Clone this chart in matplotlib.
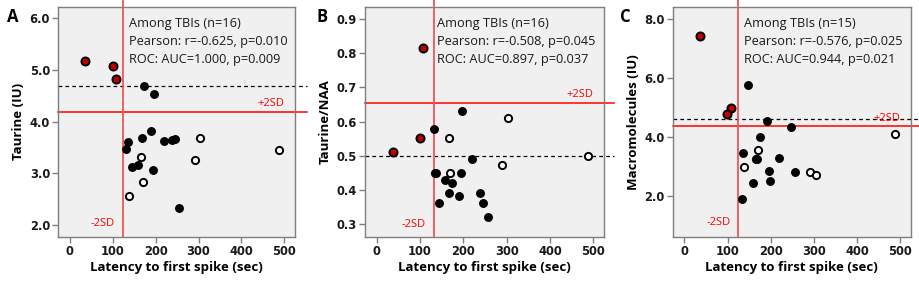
import matplotlib
matplotlib.use("Agg")
import matplotlib.pyplot as plt

# latency to first spike (sec) and metabolite values
# panel A: Taurine (IU)
a_red_x = [35, 100, 107]
a_red_y = [5.18, 5.08, 4.82]
a_tbi_x = [173, 196, 190, 169, 136, 132, 220, 238, 246, 146, 158, 194, 255]
a_tbi_y = [4.69, 4.53, 3.82, 3.69, 3.60, 3.47, 3.62, 3.65, 3.66, 3.12, 3.15, 3.06, 2.33]
a_ctl_x = [303, 487, 291, 166, 171, 138]
a_ctl_y = [3.69, 3.44, 3.25, 3.31, 2.83, 2.56]

# panel B: Taurine/NAA
b_red_x = [107, 99, 37]
b_red_y = [0.815, 0.551, 0.511]
b_tbi_x = [197, 132, 220, 138, 194, 158, 174, 168, 191, 238, 245, 145, 256]
b_tbi_y = [0.630, 0.580, 0.490, 0.451, 0.451, 0.431, 0.421, 0.392, 0.382, 0.392, 0.363, 0.363, 0.323]
b_ctl_x = [303, 166, 487, 290, 170, 134]
b_ctl_y = [0.610, 0.551, 0.500, 0.472, 0.451, 0.451]

# panel C: Macromolecules (IU)
c_red_x = [37, 109, 99]
c_red_y = [7.42, 4.97, 4.76]
c_tbi_x = [147, 192, 246, 175, 137, 169, 220, 196, 256, 199, 159, 134]
c_tbi_y = [5.75, 4.53, 4.33, 3.99, 3.45, 3.24, 3.30, 2.85, 2.81, 2.50, 2.43, 1.88]
c_ctl_x = [171, 138, 291, 304, 487, 166]
c_ctl_y = [3.54, 2.97, 2.80, 2.70, 4.09, 3.24]

panels = [
    dict(letter="A", ylabel="Taurine (IU)", red=(a_red_x, a_red_y), tbi=(a_tbi_x, a_tbi_y),
         ctl=(a_ctl_x, a_ctl_y), ylim=(1.77, 6.22), yticks=[2.0, 3.0, 4.0, 5.0, 6.0],
         dash=4.69, sd2=4.18, vline=123, sdlab_y=4.24, minus_y=2.03,
         txt=["Among TBIs (n=16)", "Pearson: r=-0.625, p=0.010", "ROC: AUC=1.000, p=0.009"],
         rect=[58.3, 236.7, 236.7], ext=1.05, letter_x=12.8),
    dict(letter="B", ylabel="Taurine/NAA", red=(b_red_x, b_red_y), tbi=(b_tbi_x, b_tbi_y),
         ctl=(b_ctl_x, b_ctl_y), ylim=(0.264, 0.935), yticks=[0.3, 0.4, 0.5, 0.6, 0.7, 0.8, 0.9],
         dash=0.50, sd2=0.654, vline=132, sdlab_y=0.663, minus_y=0.300,
         txt=["Among TBIs (n=16)", "Pearson: r=-0.508, p=0.045", "ROC: AUC=0.897, p=0.037"],
         rect=[365, 236.7, 239], ext=1.042, letter_x=321.7),
    dict(letter="C", ylabel="Macromolecules (IU)", red=(c_red_x, c_red_y), tbi=(c_tbi_x, c_tbi_y),
         ctl=(c_ctl_x, c_ctl_y), ylim=(0.62, 8.4), yticks=[2.0, 4.0, 6.0, 8.0],
         dash=4.60, sd2=4.36, vline=125, sdlab_y=4.43, minus_y=1.1,
         txt=["Among TBIs (n=15)", "Pearson: r=-0.576, p=0.025", "ROC: AUC=0.944, p=0.021"],
         rect=[672.7, 236.7, 238.3], ext=1.04, letter_x=625.7),
]

W, H = 920, 290
fig = plt.figure(figsize=(W / 100, H / 100), dpi=100)
fig.patch.set_facecolor("white")

for p in panels:
    left, bottom, width = p["rect"]
    top = 7.0
    ax = fig.add_axes([left / W, (H - bottom) / H, width / W, (bottom - top) / H])
    ax.set_facecolor("#f0f0f0")
    for s in ax.spines.values():
        s.set_color("#7f7f7f")
        s.set_linewidth(1.0)

    ax.set_xlim(-27, 525)
    ax.set_ylim(*p["ylim"])
    ax.set_xticks([0, 100, 200, 300, 400, 500])
    ax.set_yticks(p["yticks"])
    ax.set_yticklabels(["%.1f" % v for v in p["yticks"]])
    ax.tick_params(direction="out", length=4, width=1, color="#7f7f7f",
                   labelsize=8.3, labelcolor="#1a1a1a", pad=2)
    for lab in ax.get_xticklabels() + ax.get_yticklabels():
        lab.set_fontweight("bold")

    ax.set_xlabel("Latency to first spike (sec)", fontsize=9.5, fontweight="bold",
                  family="Open Sans", labelpad=2)
    ax.set_ylabel(p["ylabel"], fontsize=9.5, fontweight="bold", family="Open Sans",
                  labelpad=3)

    # reference lines
    ax.axhline(p["dash"], xmin=0, xmax=p["ext"], color="black", lw=0.9,
               ls=(0, (3, 2.5)), clip_on=False, zorder=2)
    ax.axhline(p["sd2"], xmin=0, xmax=p["ext"], color="#ff0000", lw=1.1,
               clip_on=False, zorder=2)
    ax.axvline(p["vline"], ymin=0, ymax=1.032, color="#f25555", lw=1.3,
               clip_on=False, zorder=2)
    ax.text(470, p["sdlab_y"], "+2SD", color="#ff0000", fontsize=8, family="Open Sans",
            ha="center", va="bottom")
    ax.text(p["vline"] - 46, p["minus_y"], "-2SD", color="#ff0000", fontsize=8,
            family="Open Sans", ha="center", va="center")

    # points
    cx, cy = p["ctl"]
    ax.plot(cx, cy, "o", ms=5.2, mfc="white", mec="black", mew=1.4, ls="none", zorder=3)
    tx, ty = p["tbi"]
    ax.plot(tx, ty, "o", ms=5.4, mfc="black", mec="black", mew=1.0, ls="none", zorder=4)
    rx, ry = p["red"]
    ax.plot(rx, ry, "o", ms=5.8, mfc="#c00000", mec="black", mew=1.4, ls="none", zorder=5)

    for i, t in enumerate(p["txt"]):
        ax.text(0.30, 0.926 - i * 0.078, t, transform=ax.transAxes, fontsize=9.2,
                family="Open Sans", color="#1a1a1a", ha="left", va="center")

    fig.text(p["letter_x"] / W, 1 - 16.5 / H, p["letter"], fontsize=12, fontweight="bold",
             family="Open Sans", ha="center", va="center")

fig.savefig("out.png", dpi=100)
